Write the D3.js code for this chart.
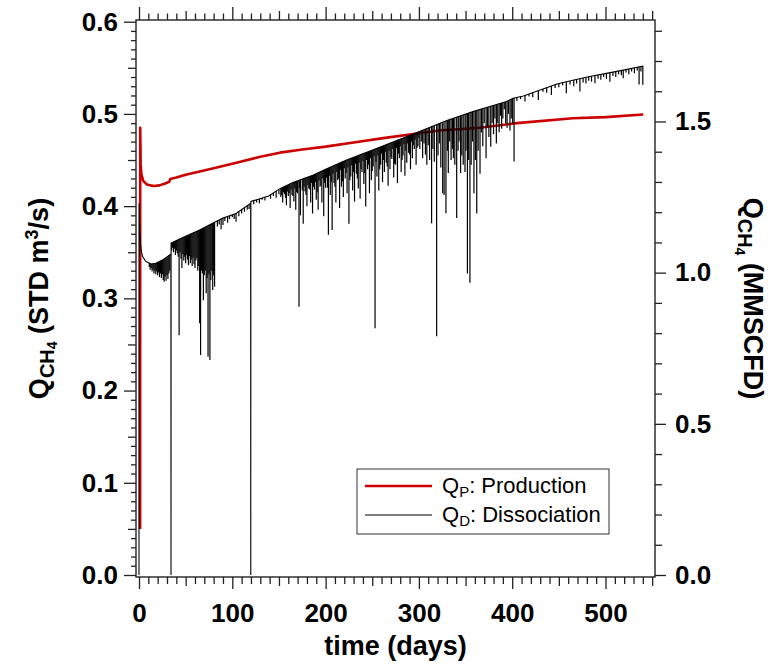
<!DOCTYPE html>
<html>
<head>
<meta charset="utf-8">
<script src="https://cdn.jsdelivr.net/npm/d3@7"></script>
<style>
    body { margin: 0; background: #fff; }
    svg text { font-family: "Liberation Sans", Arial, sans-serif; }
</style>
</head>
<body>
<div id="chart"></div>
<script>
// Q_P: production (STD m3/s) vs time (days)
const prodT = [1.2, 1.3, 1.8, 2.5, 4.5, 8, 12, 16, 22, 28, 32.5, 33.5, 40, 50, 65, 80, 100, 130, 151, 175, 200, 230, 260, 300, 322, 365, 405, 465, 500, 540.5];
const prodV = [0.05, 0.485, 0.445, 0.435, 0.4275, 0.4238, 0.4225, 0.4218, 0.4225, 0.4245, 0.4265, 0.4295, 0.431, 0.434, 0.4375, 0.441, 0.446, 0.4535, 0.458, 0.4615, 0.4645, 0.469, 0.4735, 0.479, 0.482, 0.485, 0.490, 0.4953, 0.4965, 0.4993];

// Q_D: dissociation, upper line (drops to zero at restarts)
const dissT = [0, 0.1, 0.8, 1.5, 2.5, 4, 7.5, 13, 18, 25, 30, 34.2, 34.3, 34.4, 47, 65, 81, 90, 104, 119.7, 119.8, 119.9, 139, 151, 165, 187, 200, 222.5, 258, 294, 330, 358, 376, 394, 401, 412, 430, 448, 465, 483, 501, 519, 540.5];
const dissV = [0, 0.403, 0.375, 0.36, 0.351, 0.345, 0.34, 0.3373, 0.338, 0.3415, 0.345, 0.348, 0, 0.36, 0.366, 0.374, 0.3825, 0.387, 0.392, 0.403, 0, 0.405, 0.411, 0.419, 0.4255, 0.4338, 0.44, 0.45, 0.4638, 0.4783, 0.4928, 0.5025, 0.508, 0.5134, 0.517, 0.5195, 0.526, 0.5325, 0.5365, 0.5405, 0.544, 0.5475, 0.552];

// Q_D downward spikes: [day, lowest value]
const dissSpikes = [
    [11, 0.334], [12, 0.331], [13, 0.333], [14, 0.329], [15, 0.331], [16, 0.327], [17, 0.33], [18, 0.326],
    [19, 0.329], [20, 0.325], [21, 0.328], [22, 0.323], [23, 0.327], [24, 0.322], [25, 0.326], [26, 0.32],
    [27, 0.318], [28, 0.324], [29, 0.319], [30, 0.325], [31, 0.321], [32, 0.327], [33, 0.33],
    [35, 0.352], [36, 0.355], [37, 0.35], [38, 0.354], [39, 0.347], [40, 0.352], [41, 0.349], [42, 0.345],
    [43, 0.26], [44, 0.35], [45, 0.343], [46, 0.333], [47, 0.348], [48, 0.341], [49, 0.345], [50, 0.338],
    [51, 0.347], [52, 0.342], [53, 0.336], [54, 0.346], [55, 0.338], [56, 0.342], [57, 0.335], [58, 0.344],
    [59, 0.337], [60, 0.333], [61, 0.341], [62, 0.344], [63, 0.33], [64, 0.335], [65, 0.273], [66, 0.2386],
    [67, 0.33], [68, 0.327], [69, 0.298], [70, 0.325], [71, 0.33], [72, 0.3055], [73, 0.322], [74, 0.2367],
    [75, 0.326], [76, 0.2332], [77, 0.32], [78, 0.33], [79, 0.309], [80, 0.325], [81, 0.3127],
    [84, 0.378], [86, 0.38], [88, 0.375], [90, 0.3796], [92, 0.384], [95, 0.382], [97, 0.386], [100, 0.388],
    [102, 0.386], [104, 0.383], [107, 0.389], [110, 0.392], [113, 0.394], [116, 0.396], [118, 0.397],
    [123, 0.402], [126, 0.404], [129, 0.403], [132, 0.407], [135, 0.406], [138, 0.41], [141, 0.408],
    [144, 0.411], [147, 0.409], [150, 0.413],
    [152, 0.41], [154, 0.404], [156, 0.413], [158, 0.401], [160, 0.411], [162, 0.398], [164, 0.412],
    [166, 0.405], [168, 0.396], [170, 0.414], [171.5, 0.291], [173, 0.39], [176, 0.381], [178, 0.416],
    [180, 0.4], [182, 0.419], [184, 0.404], [186, 0.392], [188, 0.418], [190, 0.407], [192, 0.396],
    [194, 0.421], [196, 0.404], [198, 0.389], [200, 0.42], [203, 0.369], [205, 0.412], [207, 0.374],
    [209, 0.425], [211, 0.404], [213, 0.428], [215, 0.398], [217, 0.421], [219, 0.41], [221, 0.43],
    [223, 0.414], [225, 0.381], [227, 0.432], [229, 0.417], [231, 0.405], [233, 0.435], [235, 0.419],
    [237, 0.408], [239, 0.437], [241, 0.424], [243, 0.3995], [245, 0.44], [247, 0.414], [249, 0.428],
    [251, 0.443], [253, 0.2675], [255, 0.432], [257, 0.417], [259, 0.445], [261, 0.426], [263, 0.437],
    [265, 0.447], [267, 0.422], [269, 0.44], [271, 0.451], [273, 0.431], [275, 0.445], [277, 0.425],
    [279, 0.452], [281, 0.437], [283, 0.455], [285, 0.433], [287, 0.447], [289, 0.458], [291, 0.44],
    [293, 0.452], [295, 0.462], [297, 0.445], [299, 0.465],
    [301, 0.462], [302.5, 0.47], [304, 0.452], [305.5, 0.468], [307, 0.456], [308.5, 0.445], [310, 0.466],
    [311.5, 0.45], [313.6, 0.3814], [315, 0.462], [316.5, 0.448], [319, 0.259], [320.5, 0.455], [322, 0.468],
    [323.5, 0.442], [325.5, 0.414], [327, 0.412], [329, 0.3923], [330.5, 0.46], [331.5, 0.4358], [333, 0.47],
    [334.5, 0.45], [336, 0.462], [337, 0.452], [338.5, 0.445], [340.5, 0.387], [342, 0.46], [343, 0.47],
    [344.7, 0.436], [346, 0.455], [347.5, 0.445], [349.4, 0.437], [350.5, 0.46], [352, 0.327], [353, 0.45],
    [354.7, 0.317], [356, 0.445], [357.5, 0.47], [359, 0.414], [360.5, 0.45], [362, 0.392], [363.5, 0.46],
    [365.5, 0.435], [367, 0.48], [368.5, 0.465], [370, 0.49], [372, 0.4519], [373.5, 0.485], [375, 0.475],
    [377, 0.4645], [378.5, 0.49], [380, 0.478], [381.5, 0.495], [383, 0.468], [384.5, 0.49], [386, 0.48],
    [387.5, 0.498], [388.7, 0.484], [390, 0.495], [391.5, 0.505], [393, 0.49], [394.5, 0.485], [396, 0.5],
    [397.6, 0.482], [399, 0.495], [400.5, 0.49], [402, 0.4483],
    [405, 0.514], [409, 0.516], [413.7, 0.5135], [418, 0.519], [422, 0.518], [428, 0.5152], [433, 0.524],
    [437, 0.523], [442, 0.5206], [446, 0.528], [450, 0.529], [454, 0.531], [458, 0.5224], [462, 0.532],
    [466, 0.53], [469, 0.533], [472.6, 0.5242], [476, 0.534], [479, 0.533], [482, 0.536], [485, 0.535],
    [488.7, 0.5333], [492, 0.538], [495, 0.537], [498, 0.54], [501, 0.538], [504.7, 0.535], [508, 0.541],
    [511, 0.54], [514, 0.543], [517, 0.542], [519, 0.5387], [522, 0.545], [525, 0.543], [528, 0.546],
    [531, 0.544], [534, 0.547], [536, 0.532], [538, 0.546], [540, 0.5315]
];

// shallower teeth that fill the comb between day 150 and 300: [day, lowest value]
const dissTeeth = [
    [153, 0.412], [155, 0.415], [157, 0.409], [159, 0.416], [161, 0.414], [163, 0.418], [165, 0.411],
    [167, 0.419], [169, 0.415], [172, 0.42], [175, 0.417], [177, 0.421], [179, 0.412], [181, 0.423],
    [183, 0.418], [185, 0.425], [187, 0.421], [189, 0.426], [191, 0.415], [193, 0.428], [195, 0.422],
    [197, 0.43], [199, 0.425], [201, 0.431], [202, 0.42], [204, 0.433], [206, 0.426], [208, 0.435],
    [210, 0.421], [212, 0.437], [214, 0.43], [216, 0.439], [218, 0.427], [220, 0.441], [222, 0.436],
    [224, 0.442], [226, 0.428], [228, 0.444], [230, 0.437], [232, 0.446], [234, 0.43], [236, 0.447],
    [238, 0.44], [240, 0.449], [242, 0.436], [244, 0.45], [246, 0.445], [248, 0.452], [250, 0.438],
    [252, 0.454], [254, 0.448], [256, 0.455], [258, 0.44], [260, 0.457], [262, 0.45], [264, 0.459],
    [266, 0.443], [268, 0.46], [270, 0.453], [272, 0.462], [274, 0.446], [276, 0.463], [278, 0.457],
    [280, 0.465], [282, 0.45], [284, 0.467], [286, 0.46], [288, 0.468], [290, 0.456], [292, 0.47],
    [294, 0.466], [296, 0.472], [298, 0.463], [300, 0.474]
];

const xTicks = [0, 100, 200, 300, 400, 500];
const yTicks = [0, 0.1, 0.2, 0.3, 0.4, 0.5, 0.6];
const y2Ticks = [0, 0.5, 1.0, 1.5];
const toMMSCFD = 3.05; // 1 m3/s = 3.05 million std ft3 per day

const width = 776, height = 666;
const frame = { left: 136, right: 655, top: 20, bottom: 577 };
const tickColor = '#222';

const svg = d3.select('#chart').append('svg')
    .attr('width', width)
    .attr('height', height);

const x = d3.scaleLinear().domain([0, 500]).range([139, 605.5]);
const y = d3.scaleLinear().domain([0, 0.6]).range([575, 21.7]);
const y2 = d3.scaleLinear().domain([0, 0.6 * toMMSCFD]).range([575, 21.7]);

// minor tick positions
const xMinor = d3.range(0, 560, 10).filter(d => d % 50 !== 0);
const xMid = d3.range(50, 560, 100);
const yMinor = d3.range(0, 61).map(d => d / 100).filter((d, i) => i % 5 !== 0);
const yMid = d3.range(0, 6).map(d => d / 10 + 0.05);
const y2Minor = d3.range(0, 19).map(d => d / 10).filter((d, i) => i % 5 !== 0);

function styleAxis(g, fontSize) {
    g.select('.domain').remove();
    g.selectAll('.tick line').attr('stroke', tickColor).attr('stroke-width', 1.3);
    g.selectAll('.tick text')
        .attr('fill', '#000')
        .style('font-size', fontSize + 'px')
        .style('font-weight', 'bold')
        .style('font-family', '"Liberation Sans", Arial, sans-serif');
}

function addTicks(axisFn, scale, values, size, transform, labels, pad) {
    const axis = axisFn(scale).tickValues(values).tickSize(size).tickPadding(pad || 3);
    if (!labels) axis.tickFormat('');
    else axis.tickFormat(labels);
    const g = svg.append('g').attr('transform', transform).call(axis);
    styleAxis(g, 26);
    return g;
}

// left axis
addTicks(d3.axisLeft, y, yMinor, 5, `translate(${frame.left},0)`);
addTicks(d3.axisLeft, y, yMid, 8, `translate(${frame.left},0)`);
addTicks(d3.axisLeft, y, yTicks, 12, `translate(${frame.left},0)`, d3.format('.1f'), 6);

// right axis
addTicks(d3.axisRight, y2, y2Minor, 7, `translate(${frame.right},0)`);
addTicks(d3.axisRight, y2, y2Ticks, 11, `translate(${frame.right},0)`, d3.format('.1f'), 9);

// bottom axis
addTicks(d3.axisBottom, x, xMinor, 7, `translate(0,${frame.bottom})`);
addTicks(d3.axisBottom, x, xMid, 9, `translate(0,${frame.bottom})`);
addTicks(d3.axisBottom, x, xTicks, 12, `translate(0,${frame.bottom})`, d3.format('d'), 15);

// top axis, ticks only
addTicks(d3.axisTop, x, xMinor, 6.5, `translate(0,${frame.top})`);
addTicks(d3.axisTop, x, xMid, 9, `translate(0,${frame.top})`);
addTicks(d3.axisTop, x, xTicks, 13, `translate(0,${frame.top})`);

// data
svg.append('clipPath').attr('id', 'plotClip')
    .append('rect')
    .attr('x', frame.left).attr('y', frame.top)
    .attr('width', frame.right - frame.left)
    .attr('height', frame.bottom - frame.top);

const plot = svg.append('g').attr('clip-path', 'url(#plotClip)');

const line = d3.line().x(d => x(d[0])).y(d => y(d[1]));

plot.append('path')
    .datum(d3.zip(prodT, prodV))
    .attr('d', line)
    .attr('fill', 'none')
    .attr('stroke', '#cc0000')
    .attr('stroke-width', 2.6)
    .attr('stroke-linejoin', 'round');

// upper line of Q_D, used as top of each spike
const dissTop = d3.scaleLinear().domain(dissT).range(dissV);

plot.selectAll('line.spike')
    .data(dissSpikes.concat(dissTeeth))
    .enter()
    .append('line')
    .attr('class', 'spike')
    .attr('x1', d => x(d[0]))
    .attr('x2', d => x(d[0]))
    .attr('y1', d => y(dissTop(d[0])))
    .attr('y2', d => y(d[1]))
    .attr('stroke', '#000')
    .attr('stroke-width', 1.2);

plot.append('path')
    .datum(d3.zip(dissT, dissV))
    .attr('d', line)
    .attr('fill', 'none')
    .attr('stroke', '#000')
    .attr('stroke-width', 1.1);

// frame
svg.append('rect')
    .attr('x', frame.left).attr('y', frame.top)
    .attr('width', frame.right - frame.left)
    .attr('height', frame.bottom - frame.top)
    .attr('fill', 'none')
    .attr('stroke', tickColor)
    .attr('stroke-width', 1.4);

// axis titles
function qch4(text) {
    text.append('tspan').text('Q');
    text.append('tspan').attr('dy', 6).style('font-size', '20px').text('CH');
    text.append('tspan').attr('dy', 3).style('font-size', '14px').text('4');
}

const yTitle = svg.append('text')
    .attr('transform', `translate(48,${(frame.top + frame.bottom) / 2}) rotate(-90)`)
    .attr('text-anchor', 'middle')
    .style('font-size', '27px')
    .style('font-weight', 'bold');
qch4(yTitle);
yTitle.append('tspan').attr('dy', -9).style('font-size', '27px').text('\u00a0(STD m');
yTitle.append('tspan').attr('dy', -10).style('font-size', '18px').text('3');
yTitle.append('tspan').attr('dy', 10).style('font-size', '27px').text('/s)');

const y2Title = svg.append('text')
    .attr('transform', `translate(744,${(frame.top + frame.bottom) / 2}) rotate(90)`)
    .attr('text-anchor', 'middle')
    .style('font-size', '27px')
    .style('font-weight', 'bold');
qch4(y2Title);
y2Title.append('tspan').attr('dy', -9).style('font-size', '27px').text('\u00a0(MMSCFD)');

svg.append('text')
    .attr('x', (frame.left + frame.right) / 2)
    .attr('y', 655)
    .attr('text-anchor', 'middle')
    .style('font-size', '27px')
    .style('font-weight', 'bold')
    .text('time (days)');

// legend
const legend = svg.append('g');
legend.append('rect')
    .attr('x', 357).attr('y', 469)
    .attr('width', 252).attr('height', 65)
    .attr('fill', '#fff')
    .attr('stroke', '#333')
    .attr('stroke-width', 1);

const legendItems = [
    { sub: 'P', label: ': Production', color: '#cc0000', w: 2.4, y: 486 },
    { sub: 'D', label: ': Dissociation', color: '#000', w: 1, y: 515 }
];

legendItems.forEach(item => {
    legend.append('line')
        .attr('x1', 365).attr('x2', 432)
        .attr('y1', item.y).attr('y2', item.y)
        .attr('stroke', item.color)
        .attr('stroke-width', item.w);
    const t = legend.append('text')
        .attr('x', 442)
        .attr('y', item.y + 7)
        .style('font-size', '22px');
    t.append('tspan').text('Q');
    t.append('tspan').attr('dy', 4).style('font-size', '15px').text(item.sub);
    t.append('tspan').attr('dy', -4).style('font-size', '22px').text(item.label);
});
</script>
</body>
</html>
